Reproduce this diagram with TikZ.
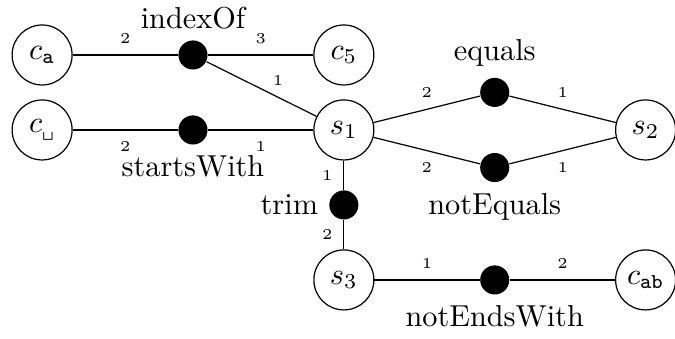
\documentclass[tikz,border=0pt]{standalone}
\usepackage{amsmath}
\usetikzlibrary{positioning}
\begin{document}
\begin{tikzpicture}[on grid,node distance=24.75pt and 49.8pt,
var/.style={draw,circle,minimum size=19.8pt,inner sep=0pt},
cons/.style={circle,fill=black,minimum size=9.6pt,inner sep=0pt},
num/.style={font=\tiny,inner sep=3.6pt}]
\useasboundingbox (-13.9pt,18.15pt) rectangle (208.9pt,-93.7pt);
\node[var] (ca) {$c_{\mathtt{a}}$};
\node[cons,right=of ca,label=above:indexOf] (idx) {};
\node[var,right=of idx] (c5) {$c_5$};
\node[var,below=of ca] (cs) {$c_{\text{\texttt{\textvisiblespace}}}$};
\node[cons,right=of cs,label=below:startsWith] (sw) {};
\node[var,right=of sw] (s1) {$s_1$};
\node[cons,above right=12.4pt and 49.8pt of s1,label=above:equals] (eq) {};
\node[cons,below right=12.4pt and 49.8pt of s1,label=below:notEquals] (neq) {};
\node[var,right=99.6pt of s1] (s2) {$s_2$};
\node[cons,below=of s1,label=left:trim] (trm) {};
\node[var,below=of trm] (s3) {$s_3$};
\node[cons,right=of s3,label=below:notEndsWith] (new) {};
\node[var,right=of new] (cab) {$c_{\mathtt{ab}}$};
\draw (ca) -- node[num,above]{2} (idx); \draw (idx) -- node[num,above]{3} (c5);
\draw (idx) -- node[num,pos=0.65,above]{1} (s1);
\draw (cs) -- node[num,below]{2} (sw); \draw (sw) -- node[num,below]{1} (s1);
\draw (s1) -- node[num,above]{2} (eq); \draw (eq) -- node[num,above]{1} (s2);
\draw (s1) -- node[num,below]{2} (neq); \draw (neq) -- node[num,below]{1} (s2);
\draw (s1) -- node[num,left]{1} (trm); \draw (trm) -- node[num,left]{2} (s3);
\draw (s3) -- node[num,above]{1} (new); \draw (new) -- node[num,above]{2} (cab);
\end{tikzpicture}
\end{document}
